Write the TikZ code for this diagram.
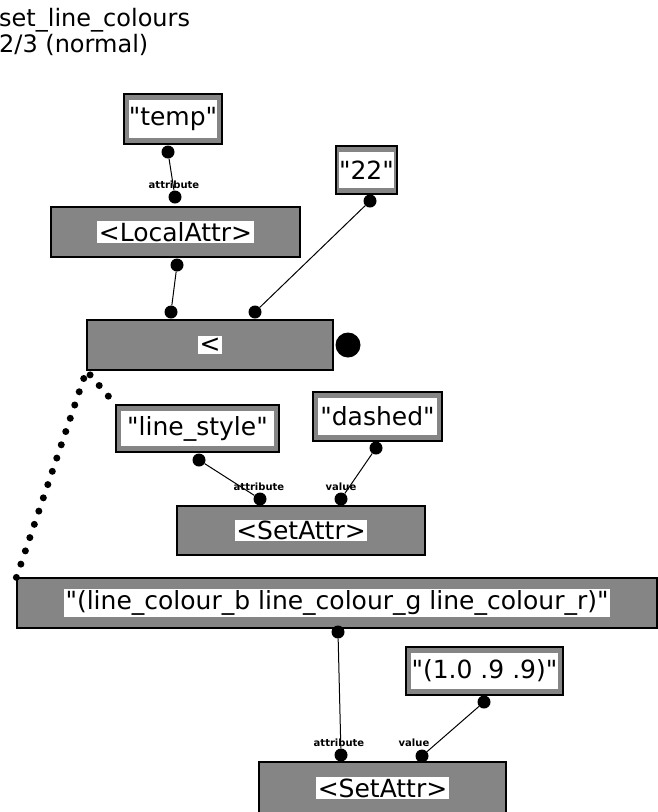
\documentclass[tikz,border=0pt]{standalone}
\usepackage{fontspec}
\newfontfamily\gf{DejaVu Sans}
\begin{document}
\begin{tikzpicture}[x=1pt,y=-1pt,
  opbox/.style={draw=black, line width=1.2pt, fill=black!48, inner sep=0pt},
  lbl/.style={fill=white, inner sep=1.5pt, font=\gf\fontsize{25}{27}\selectfont},
  port/.style={circle, fill=black, inner sep=0pt, minimum size=13pt},
  plabel/.style={font=\gf\fontsize{10}{10}\selectfont\bfseries, inner sep=0pt},
  conn/.style={line width=1pt},
  title/.style={font=\gf\fontsize{24}{26}\selectfont, anchor=west, inner sep=0pt}]
\useasboundingbox (0,0) rectangle (658,812);

% title
\node[title] (t1) at (-1,20) {set\_line\_colours};
\node[title] (t2) at (-1,45) {2/3 (normal)};

% boxes
\node[opbox, minimum width=98, minimum height=50] (temp) at (173,119) {};
\node[lbl, inner sep=0pt, minimum width=88, minimum height=38] at (temp) {"temp"};

\node[opbox, minimum width=61, minimum height=48] (b22) at (366.5,170) {};
\node[lbl, inner sep=0pt, minimum width=51, minimum height=36] at (b22) {"22"};

\node[opbox, minimum width=249, minimum height=50] (la) at (175.5,232) {};
\node[lbl] at (la) {<LocalAttr>};

\node[opbox, minimum width=246, minimum height=50] (lt) at (210,345) {};
\node[lbl] at (lt) {<};

\node[opbox, minimum width=163, minimum height=47] (ls) at (197.5,428.5) {};
\node[lbl, inner sep=0pt, minimum width=153, minimum height=35] at (ls) {"line\_style"};

\node[opbox, minimum width=129, minimum height=49] (da) at (377.5,416.5) {};
\node[lbl, inner sep=0pt, minimum width=119, minimum height=37] at (da) {"dashed"};

\node[opbox, minimum width=248, minimum height=49] (sa1) at (301,530.5) {};
\node[lbl] at (sa1) {<SetAttr>};

\node[opbox, minimum width=640, minimum height=50] (lc) at (337,603) {};
\node[lbl] at (lc) {"(line\_colour\_b line\_colour\_g line\_colour\_r)"};

\node[opbox, minimum width=157, minimum height=48] (rgb) at (484.5,671) {};
\node[lbl, inner sep=0pt, minimum width=147, minimum height=36] at (rgb) {"(1.0 .9 .9)"};

\node[opbox, minimum width=247, minimum height=52] (sa2) at (382.5,788) {};
\node[lbl] at (sa2) {<SetAttr>};

% big output dot
\node[circle, fill=black, inner sep=0pt, minimum size=25pt] (out) at (348,345) {};

% ports
\node[port] (ptemp) at (168,152) {};
\node[port] (plaT) at (175,197) {};
\node[port] (plaB) at (177,265) {};
\node[port] (p22) at (370,201) {};
\node[port] (pltA) at (171,312) {};
\node[port] (pltB) at (255,312) {};
\node[port] (pls) at (199,460) {};
\node[port] (pda) at (376,448) {};
\node[port] (psa1a) at (260,499) {};
\node[port] (psa1v) at (341,499) {};
\node[port] (plc) at (338,632) {};
\node[port] (prgb) at (484,702) {};
\node[port] (psa2a) at (341,755) {};
\node[port] (psa2v) at (422,756) {};

% port labels
\node[plabel] at (174,185) {attribute};
\node[plabel] at (259,487) {attribute};
\node[plabel] at (341,487) {value};
\node[plabel] at (339,743) {attribute};
\node[plabel] at (414,743) {value};

% connectors
\draw[conn] (ptemp) -- (plaT);
\draw[conn] (plaB) -- (pltA);
\draw[conn] (p22) -- (pltB);
\draw[conn] (pls) -- (psa1a);
\draw[conn] (pda) -- (psa1v);
\draw[conn] (plc) -- (psa2a);
\draw[conn] (prgb) -- (psa2v);

% dotted connector
\draw[line width=7pt, line cap=round, dash pattern=on 0pt off 14pt]
  (lc.north west) -- (lt.south west) -- (ls.north west);
\end{tikzpicture}
\end{document}
